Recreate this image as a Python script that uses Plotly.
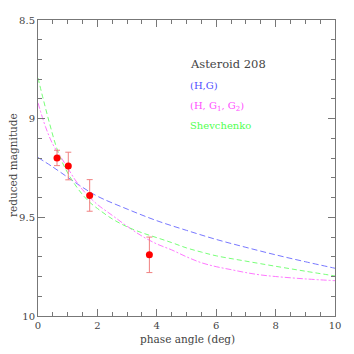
import plotly.graph_objects as go

# observed data
obs_phase = [0.64, 1.02, 1.74, 3.75]
obs_mag = [9.199, 9.24, 9.389, 9.69]
obs_err = [0.039, 0.07, 0.08, 0.09]

# model curves
hg_phase = [0, 0.5, 1, 1.5, 2, 3, 4, 5, 6, 7, 8, 9, 10]
hg_mag = [9.197, 9.245, 9.297, 9.348, 9.393, 9.458, 9.517, 9.566, 9.612, 9.652, 9.690, 9.725, 9.758]

hg12_phase = [0, 0.25, 0.5, 0.75, 1, 1.25, 1.5, 1.75, 2, 2.5, 3, 3.5, 4, 4.5, 5, 5.5, 6, 6.5, 7, 7.5, 8, 9, 10]
hg12_mag = [8.92, 9.04, 9.13, 9.19, 9.25, 9.31, 9.36, 9.40, 9.435, 9.49, 9.545, 9.595, 9.635, 9.665,
            9.70, 9.73, 9.75, 9.765, 9.78, 9.792, 9.80, 9.812, 9.821]

shev_phase = [0, 0.2, 0.4, 0.6, 0.8, 1.0, 1.25, 1.5, 1.75, 2.0, 2.5, 3, 3.5, 4, 4.5, 5, 5.5, 6, 7, 8, 9, 10]
shev_mag = [8.794, 8.915, 9.03, 9.135, 9.215, 9.275, 9.335, 9.385, 9.425, 9.455, 9.508, 9.548, 9.578,
            9.603, 9.628, 9.655, 9.676, 9.695, 9.722, 9.748, 9.773, 9.797]

x_ticks = [0, 2, 4, 6, 8, 10]
y_ticks = [8.5, 9, 9.5, 10]
y_ticklabels = ["8.5", "9", "9.5", "10"]

FONT = "DejaVu Serif"
GRAY = "#444"

fig = go.Figure()
fig.add_trace(go.Scatter(x=hg_phase, y=hg_mag, mode="lines", line=dict(color="#7878ff", width=1, dash="6px,3px", shape="spline")))
fig.add_trace(go.Scatter(x=hg12_phase, y=hg12_mag, mode="lines", line=dict(color="#ff78ff", width=1, dash="6px,2px,2px,2px", shape="spline")))
fig.add_trace(go.Scatter(x=shev_phase, y=shev_mag, mode="lines", line=dict(color="#78ff78", width=1, dash="5px,3px", shape="spline")))
fig.add_trace(go.Scatter(x=obs_phase, y=obs_mag, mode="markers",
                         marker=dict(color="#ff0000", size=7),
                         error_y=dict(type="data", array=obs_err, color="#f08080", thickness=1, width=3)))

axis_common = dict(showgrid=False, zeroline=False, showline=True, linecolor="#777", linewidth=1,
                   mirror="allticks", ticks="inside", tickcolor="#777", ticklen=7, automargin=False,
                   tickfont=dict(family=FONT, size=10, color=GRAY))

fig.update_layout(
    width=346, height=346, showlegend=False,
    margin=dict(l=30, r=19, t=12, b=38),
    paper_bgcolor="white", plot_bgcolor="white",
    xaxis=dict(range=[0, 10], tickvals=x_ticks,
               minor=dict(dtick=0.5, ticks="inside", ticklen=4, tickcolor="#777"),
               **axis_common),
    yaxis=dict(range=[10, 8.5], tickvals=y_ticks, ticktext=y_ticklabels,
               minor=dict(dtick=0.1, ticks="inside", ticklen=4, tickcolor="#777"),
               **axis_common),
)

# axis titles
fig.add_annotation(text="phase angle (deg)", xref="paper", yref="paper", x=0.503, y=0, yshift=-22.5,
                   xanchor="center", yanchor="middle", showarrow=False,
                   font=dict(family=FONT, size=10.5, color=GRAY))
fig.add_annotation(text="reduced magnitude", xref="paper", yref="paper", x=0, y=0.51, xshift=-25,
                   xanchor="center", yanchor="middle", textangle=-90, showarrow=False,
                   font=dict(family=FONT, size=10.5, color=GRAY))

ann = [
    ("Asteroid 208", GRAY, 11.5, 0.505, 0.85),
    ("(H,G)", "#5050ff", 10, 0.505, 0.78),
    ("(H, G<sub>1</sub>, G<sub>2</sub>)", "#ff50ff", 10, 0.505, 0.707),
    ("Shevchenko", "#50ff50", 10, 0.505, 0.643),
]
for text, color, size, x, y in ann:
    fig.add_annotation(text=text, xref="paper", yref="paper", x=x, y=y, xanchor="left", yanchor="middle",
                       showarrow=False, font=dict(family=FONT, size=size, color=color))

fig.write_html("out.html")
